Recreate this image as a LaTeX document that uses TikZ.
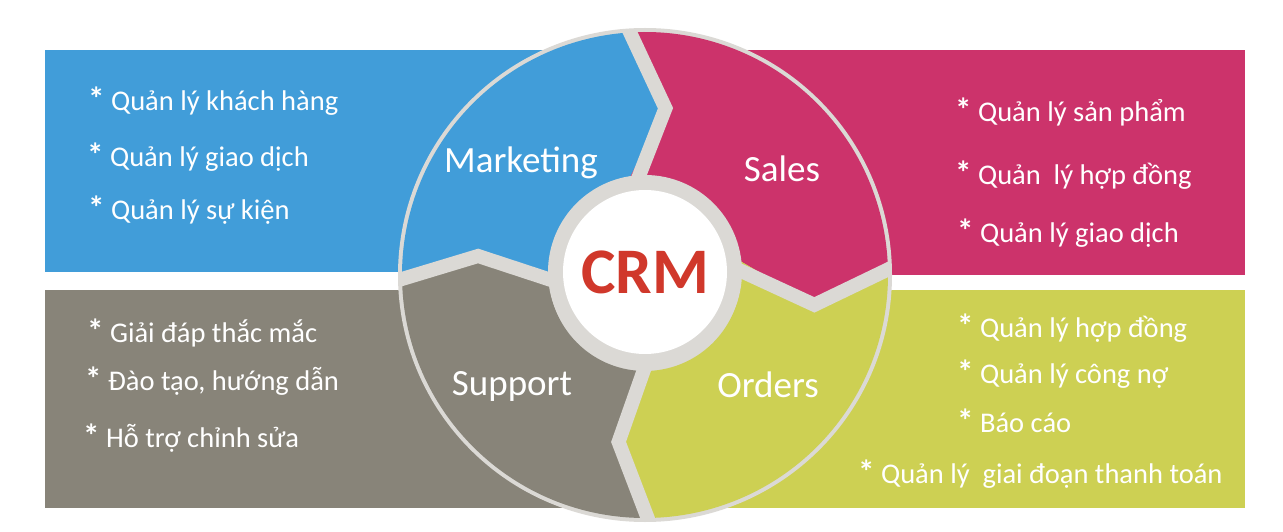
\documentclass[tikz,border=0pt]{standalone}
\usepackage{fontspec}
\setmainfont{Carlito}
\definecolor{crmblue}{RGB}{65,157,217}
\definecolor{crmpink}{RGB}{204,51,107}
\definecolor{crmgray}{RGB}{136,132,121}
\definecolor{crmgreen}{RGB}{205,208,83}
\definecolor{ringgray}{RGB}{219,217,213}
\definecolor{crmred}{RGB}{208,56,43}
\newcommand{\stars}{{\bfseries\fontsize{33}{30}\selectfont*}}
\begin{document}
\begin{tikzpicture}[x=1pt,y=1pt,
    item/.style={anchor=base west,inner sep=0pt,text=white,font=\fontsize{28.5}{30}\selectfont},
    part/.style={anchor=base,inner sep=0pt,text=white,font=\fontsize{37}{40}\selectfont},
    gapline/.style={draw=ringgray,line width=14pt,line join=miter}]
  \useasboundingbox (0,0) rectangle (1283,531);
  \fill[crmblue] (45,259) rectangle (645,481);
  \fill[crmpink] (645,256) rectangle (1245,481);
  \fill[crmgray] (45,23) rectangle (645,241);
  \fill[crmgreen] (645,23) rectangle (1245,241);
  \begin{scope}[shift={(645,256)}]
    \fill[ringgray] (0,0) circle (247pt);
    \fill[crmblue] (187:96pt) -- (173.5:168pt) -- (182:243pt) arc[start angle=182,end angle=95,radius=243pt]
      -- (83:168pt) -- (100:96pt) arc[start angle=100,end angle=187,radius=96pt] -- cycle;
    \fill[crmpink] (100:96pt) -- (83:168pt) -- (95:243pt) arc[start angle=95,end angle=3,radius=243pt]
      -- (-10:172pt) -- (8.5:96pt) arc[start angle=8.5,end angle=100,radius=96pt] -- cycle;
    \fill[crmgreen] (8.5:96pt) -- (-10:172pt) -- (3:243pt) arc[start angle=3,end angle=-88,radius=243pt]
      -- (-99:169pt) -- (-87:96pt) arc[start angle=-87,end angle=8.5,radius=96pt] -- cycle;
    \fill[crmgray] (-87:96pt) -- (-99:169pt) -- (-88:243pt) arc[start angle=-88,end angle=-178,radius=243pt]
      -- (-186.5:168pt) -- (-173:96pt) arc[start angle=-173,end angle=-87,radius=96pt] -- cycle;
    \begin{scope}
      \clip (0,0) circle (246pt);
      \draw[gapline] (187:80pt) -- (173.5:168pt) -- (182:260pt);
      \draw[gapline] (100:80pt) -- (83:168pt) -- (95:260pt);
      \draw[gapline] (8.5:80pt) -- (-10:172pt) -- (3:260pt);
      \draw[gapline] (-87:80pt) -- (-99:169pt) -- (-88:260pt);
    \end{scope}
    \fill[ringgray] (0,3) circle (97pt);
    \node[circle,fill=white,minimum size=164pt,inner sep=0pt,text=crmred,
      font=\bfseries\fontsize{65}{70}\selectfont] (crm) at (0,3) {CRM};
  \end{scope}
  \node[part] (marketing) at (521,358) {Marketing};
  \node[part] (sales) at (782,349) {Sales};
  \node[part] (support) at (512,136) {Support};
  \node[part] (orders) at (768,134) {Orders};
  % marketing
  \node[item] (m1) at (88,420) {\stars{} Quản lý khách hàng};
  \node[item] (m2) at (87,364) {\stars{} Quản lý giao dịch};
  \node[item] (m3) at (88,311) {\stars{} Quản lý sự kiện};
  % support
  \node[item] (s1) at (87,189) {\stars{} Giải đáp thắc mắc};
  \node[item] (s2) at (85,141) {\stars{} Đào tạo, hướng dẫn};
  \node[item] (s3) at (83,84) {\stars{} Hỗ trợ chỉnh sửa};
  % sales
  \node[item] (b1) at (955,409) {\stars{} Quản lý sản phẩm};
  \node[item] (b2) at (955,346) {\stars{} Quản\ \ lý hợp đồng};
  \node[item] (b3) at (957,288) {\stars{} Quản lý giao dịch};
  % orders
  \node[item] (o1) at (957,194) {\stars{} Quản lý hợp đồng};
  \node[item] (o2) at (957,148) {\stars{} Quản lý công nợ};
  \node[item] (o3) at (957,99) {\stars{} Báo cáo};
  \node[item] (o4) at (858,48) {\stars{} Quản lý\ \ giai đoạn thanh toán};
\end{tikzpicture}
\end{document}
